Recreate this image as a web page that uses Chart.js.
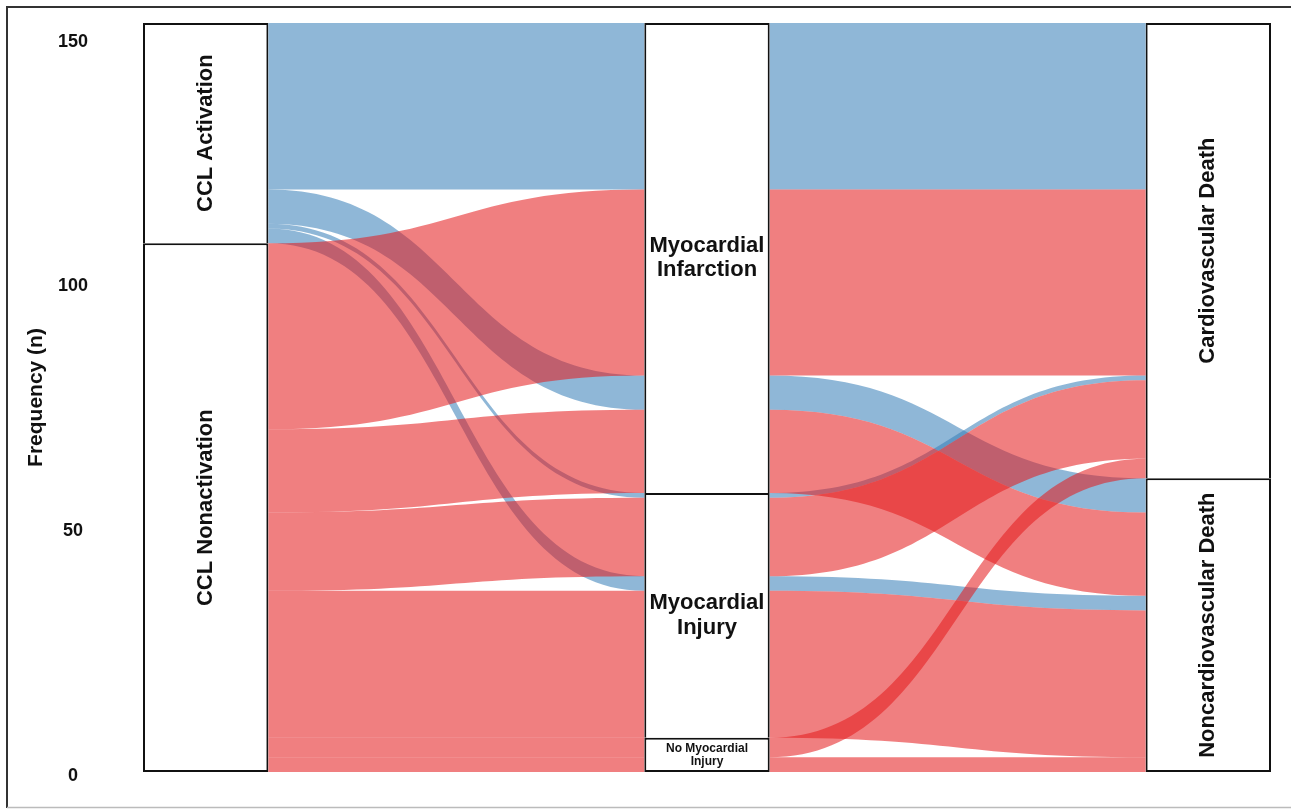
<!DOCTYPE html>
<html>
<head>
<meta charset="utf-8">
<script src="https://cdn.jsdelivr.net/npm/chart.js@4.4.0/dist/chart.umd.min.js"></script>
<style>
  body { margin: 0; background: #fff; }
  canvas { display: block; }
</style>
</head>
<body>
<canvas id="alluvial" width="1291" height="809"></canvas>
<script>
// strata of the three axes (top to bottom)
var cclLevels = ['CCL Activation', 'CCL Nonactivation'];
var injuryLevels = ['Myocardial Infarction', 'Myocardial Injury', 'No Myocardial Injury'];
var deathLevels = ['Cardiovascular Death', 'Noncardiovascular Death'];

// one entry per alluvium: level index on each axis + number of patients
var flowCcl    = [0, 0, 0, 0, 1, 1, 1, 1, 1, 1];
var flowInjury = [0, 0, 1, 1, 0, 0, 1, 1, 2, 2];
var flowDeath  = [0, 1, 0, 1, 0, 1, 0, 1, 0, 1];
var flowCount  = [34, 7, 1, 3, 38, 17, 16, 30, 4, 3];

var yTicks = [0, 50, 100, 150];

var fillColors = ['rgba(55, 126, 184, 0.56)', 'rgba(228, 26, 28, 0.56)'];
var stratumWidth = 0.25;
var fontFamily = '"Liberation Sans", Arial, sans-serif';

var total = flowCount.reduce(function (a, b) { return a + b; }, 0);
var axisLevels = [cclLevels, injuryLevels, deathLevels];
var flowLevel = [flowCcl, flowInjury, flowDeath];

// order of lodes inside a stratum: own axis first, then the others
var sortKeys = [[0, 1, 2], [1, 2, 0], [2, 1, 0]];
function stackAxis(k) {
  var idx = flowCount.map(function (_, i) { return i; });
  idx.sort(function (a, b) {
    for (var j of sortKeys[k]) {
      var d = flowLevel[j][a] - flowLevel[j][b];
      if (d) return d;
    }
    return 0;
  });
  var top = [], bottom = [], y = total;
  idx.forEach(function (i) { top[i] = y; y -= flowCount[i]; bottom[i] = y; });
  return { top: top, bottom: bottom };
}
var lodes = [0, 1, 2].map(stackAxis);

// strata boxes as floating bars
var strata = [];
axisLevels.forEach(function (levels, k) {
  var y = total;
  levels.forEach(function (name, l) {
    var n = flowCount.reduce(function (s, c, i) { return s + (flowLevel[k][i] === l ? c : 0); }, 0);
    strata.push({ x: k + 1, y: [y - n, y], label: name });
    y -= n;
  });
});

var frame = {
  id: 'frame',
  beforeDraw: function (chart) {
    var ctx = chart.ctx;
    ctx.save();
    ctx.fillStyle = '#fff';
    ctx.fillRect(0, 0, chart.width, chart.height);
    ctx.strokeStyle = '#333';
    ctx.lineWidth = 2;
    ctx.beginPath();
    ctx.moveTo(7, chart.height - 1);
    ctx.lineTo(7, 7);
    ctx.lineTo(chart.width, 7);
    ctx.stroke();
    ctx.strokeStyle = '#bbb';
    ctx.lineWidth = 1.5;
    ctx.beginPath();
    ctx.moveTo(7, chart.height - 1.5);
    ctx.lineTo(chart.width, chart.height - 1.5);
    ctx.stroke();
    ctx.restore();
  }
};

var ribbons = {
  id: 'ribbons',
  beforeDatasetsDraw: function (chart) {
    var ctx = chart.ctx, x = chart.scales.x, y = chart.scales.y;
    var half = stratumWidth / 2;
    ctx.save();
    [0, 1].forEach(function (col) {
      flowCount.forEach(function (n, i) {
        if (flowCcl[i] !== col) return;
        for (var k = 0; k < 2; k++) {
          var x0 = x.getPixelForValue(k + 1 + half);
          var x1 = x.getPixelForValue(k + 2 - half);
          var xm = (x0 + x1) / 2;
          var t0 = y.getPixelForValue(lodes[k].top[i]), b0 = y.getPixelForValue(lodes[k].bottom[i]);
          var t1 = y.getPixelForValue(lodes[k + 1].top[i]), b1 = y.getPixelForValue(lodes[k + 1].bottom[i]);
          ctx.beginPath();
          ctx.moveTo(x0, t0);
          ctx.bezierCurveTo(xm, t0, xm, t1, x1, t1);
          ctx.lineTo(x1, b1);
          ctx.bezierCurveTo(xm, b1, xm, b0, x0, b0);
          ctx.closePath();
          ctx.fillStyle = fillColors[col];
          ctx.fill();
        }
      });
    });
    ctx.restore();
  }
};

var stratumLabels = {
  id: 'stratumLabels',
  afterDatasetsDraw: function (chart) {
    var ctx = chart.ctx;
    chart.getDatasetMeta(0).data.forEach(function (bar, i) {
      var s = strata[i];
      var cy = (bar.y + bar.base) / 2;
      var h = Math.abs(bar.base - bar.y);
      ctx.save();
      ctx.fillStyle = '#111';
      ctx.textAlign = 'center';
      ctx.textBaseline = 'middle';
      if (s.x === 2) {
        var cut = s.label.lastIndexOf(' ');
        var lines = [s.label.slice(0, cut), s.label.slice(cut + 1)];
        var size = h < 60 ? 12 : 22;
        var lh = size * 1.1;
        ctx.font = 'bold ' + size + 'px ' + fontFamily;
        lines.forEach(function (t, j) {
          ctx.fillText(t, bar.x, cy + (j - 0.5) * lh);
        });
      } else {
        ctx.font = 'bold 22px ' + fontFamily;
        ctx.translate(bar.x, cy);
        ctx.rotate(-Math.PI / 2);
        ctx.fillText(s.label, 0, 0);
      }
      ctx.restore();
    });
  }
};

var ctx = document.getElementById('alluvial').getContext('2d');
var chart = new Chart(ctx, {
  type: 'bar',
  data: {
    datasets: [{
      data: strata,
      backgroundColor: '#fff',
      borderColor: '#111',
      borderWidth: 2,
      // shared edges between stacked strata drawn once
      borderSkipped: function (c) { return c.raw && c.raw.y[0] > 0 ? 'start' : false; },
      categoryPercentage: stratumWidth,
      barPercentage: 1
    }]
  },
  options: {
    responsive: false,
    animation: false,
    devicePixelRatio: 1,
    layout: { padding: { left: 0, top: 23, right: 20, bottom: 37 } },
    plugins: {
      legend: { display: false },
      tooltip: { enabled: false }
    },
    scales: {
      x: {
        type: 'linear',
        display: false,
        offset: false,
        min: 1 - stratumWidth / 2,
        max: 3 + stratumWidth / 2,
        afterBuildTicks: function (axis) { axis.ticks = [{ value: 1 }, { value: 2 }, { value: 3 }]; }
      },
      y: {
        min: 0,
        max: total,
        grid: { display: false, drawTicks: false },
        border: { display: false },
        afterBuildTicks: function (axis) { axis.ticks = yTicks.map(function (v) { return { value: v }; }); },
        afterFit: function (axis) {
          axis.width = 143;
          axis.paddingTop = 0;
          axis.paddingBottom = 0;
        },
        ticks: {
          color: '#111',
          font: { family: fontFamily, size: 18, weight: 'bold' },
          crossAlign: 'center',
          padding: 55,
          labelOffset: 4
        },
        title: {
          display: true,
          text: 'Frequency (n)',
          color: '#111',
          font: { family: fontFamily, size: 21, weight: 'bold' },
          padding: { top: 24, bottom: 0 }
        }
      }
    }
  },
  plugins: [frame, ribbons, stratumLabels]
});
</script>
</body>
</html>
